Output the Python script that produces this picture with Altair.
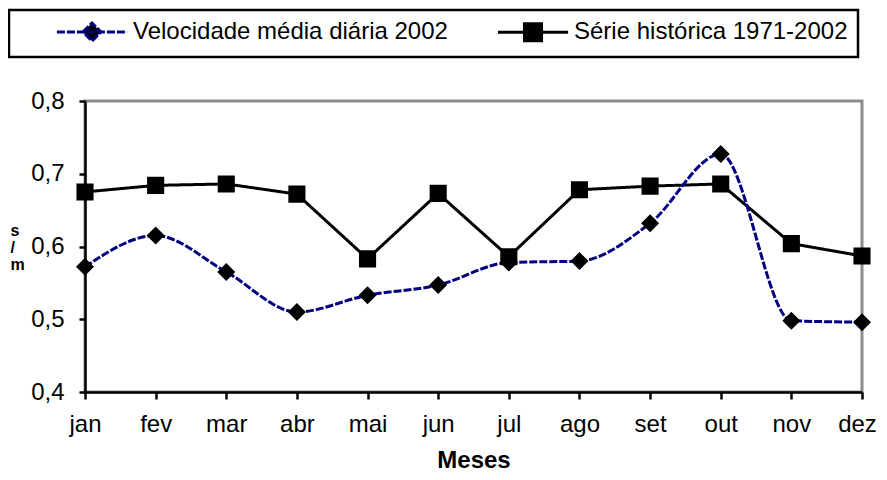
import altair as alt
import pandas as pd

months = ["jan", "fev", "mar", "abr", "mai", "jun", "jul", "ago", "set", "out", "nov", "dez"]
series_names = ["Velocidade média diária 2002", "Série histórica 1971-2002"]
vel_2002 = [0.572, 0.615, 0.565, 0.510, 0.533, 0.547, 0.578, 0.580, 0.632, 0.727, 0.498, 0.496]
serie_hist = [0.675, 0.684, 0.686, 0.672, 0.583, 0.673, 0.586, 0.678, 0.683, 0.686, 0.604, 0.587]
y_ticks = [0.4, 0.5, 0.6, 0.7, 0.8]

rows = []
for name, vals in zip(series_names, [vel_2002, serie_hist]):
    for m, v in zip(months, vals):
        rows.append({"mes": m, "serie": name, "valor": v})
df = pd.DataFrame(rows)

FONT = "Liberation Sans"
# marker shapes with a horizontal stroke segment (only visible in the legend,
# since the data markers are drawn without stroke)
diamond_path = "M-3.9,0H3.9M-1,0L0,-1L1,0L0,1Z"
square_path = "M-3.9,0H3.9M-0.95,-0.95H0.95V0.95H-0.95Z"

x_enc = alt.X(
    "mes:N", sort=months, scale=alt.Scale(type="point", padding=0),
    axis=alt.Axis(title="Meses", labelAngle=0, labelFont=FONT, labelFontSize=24,
                  labelColor="black", labelPadding=13, tickSize=7, tickWidth=2.5,
                  tickColor="black", domainColor="black", domainWidth=2.5,
                  labelOffset={"condition": {"test": "datum.value === 'dez'", "value": -5}, "value": 0},
                  titleFont=FONT, titleFontSize=24, titleFontWeight="bold",
                  titleColor="black", titlePadding=12, grid=False, zindex=2),
)
y_enc = alt.Y(
    "valor:Q", scale=alt.Scale(domain=[0.4, 0.8], nice=False, zero=False),
    axis=alt.Axis(title=["s", "/", "m"], values=y_ticks,
                  labelExpr="replace(format(datum.value, '.1f'), '.', ',')",
                  labelFont=FONT, labelFontSize=24, labelColor="black", labelPadding=15,
                  tickSize=6, tickWidth=2.5, tickColor="black",
                  domainColor="black", domainWidth=2.5, grid=False,
                  titleAngle=0, titleAlign="left", titleBaseline="alphabetic",
                  titleX=-75, titleY=134, titleFont=FONT, titleFontSize=16,
                  titleFontWeight="bold", titleColor="black", titleLineHeight=17,
                  zindex=2),
)

legend = alt.Legend(
    title=None, orient="none", legendX=-76, legendY=-91, direction="horizontal",
    labelFont=FONT, labelFontSize=24, labelColor="black", labelOffset=29,
    labelLimit=500, symbolSize=324, symbolStrokeWidth=3, symbolFillColor="black",
    symbolOffset=61, columnPadding=12, padding=10, strokeColor="black",
)

color_scale = alt.Scale(domain=series_names, range=["#000080", "#000000"])
dash_scale = alt.Scale(domain=series_names, range=[[8, 2], [1, 0]])
shape_scale = alt.Scale(domain=series_names, range=[diamond_path, square_path])

base = alt.Chart(df)

line_vel = base.transform_filter(alt.datum.serie == series_names[0]).mark_line(
    strokeWidth=3, interpolate="monotone"
).encode(
    x=x_enc, y=y_enc,
    color=alt.Color("serie:N", scale=color_scale, legend=legend),
    strokeDash=alt.StrokeDash("serie:N", scale=dash_scale, legend=legend),
)

line_hist = base.transform_filter(alt.datum.serie == series_names[1]).mark_line(
    strokeWidth=3
).encode(
    x=x_enc, y=y_enc,
    color=alt.Color("serie:N", scale=color_scale, legend=legend),
    strokeDash=alt.StrokeDash("serie:N", scale=dash_scale, legend=legend),
)

points = base.mark_point(filled=True, fill="black", size=324, opacity=1).encode(
    x=x_enc, y=y_enc,
    shape=alt.Shape("serie:N", scale=shape_scale, legend=legend),
)

chart = alt.layer(line_hist, line_vel, points).properties(
    width=777, height=291,
    autosize=alt.AutoSizeParams(type="none"),
    padding={"left": 77, "top": 93, "right": 16, "bottom": 80},
).configure_view(
    stroke="#8c8c8c", strokeWidth=3
).configure_legend(
    strokeWidth=2.5
)

chart.save("out.html", embed_options={"renderer": "svg", "actions": False})
